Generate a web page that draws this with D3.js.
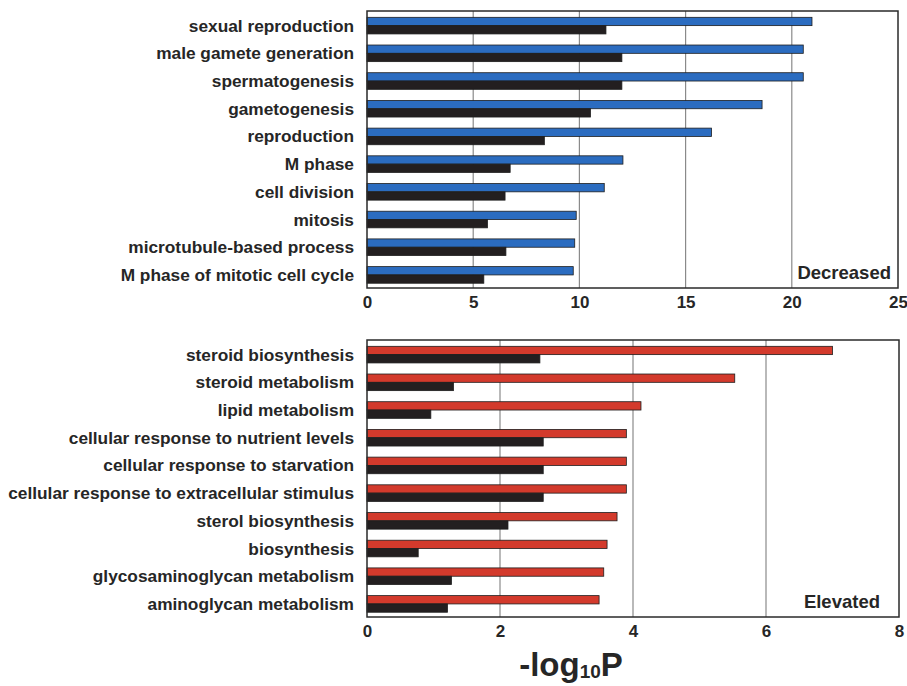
<!DOCTYPE html>
<html>
<head>
<meta charset="utf-8">
<title>GO terms -log10P</title>
<style>
  body { margin: 0; background: #fff; }
  svg text { font-family: "Liberation Sans", Arial, sans-serif; font-weight: bold; fill: #262626; }
</style>
</head>
<body>
<script src="https://cdn.jsdelivr.net/npm/d3@7"></script>
<script>
// decreased panel
var decTerms = ["sexual reproduction", "male gamete generation", "spermatogenesis", "gametogenesis",
    "reproduction", "M phase", "cell division", "mitosis", "microtubule-based process",
    "M phase of mitotic cell cycle"];
var decValues = [20.95, 20.54, 20.54, 18.6, 16.22, 12.05, 11.17, 9.85, 9.78, 9.71];
var decBlack  = [11.25, 12.0, 12.0, 10.52, 8.35, 6.74, 6.5, 5.67, 6.54, 5.5];
var decTicks  = [0, 5, 10, 15, 20, 25];

// elevated panel
var eleTerms = ["steroid biosynthesis", "steroid metabolism", "lipid metabolism",
    "cellular response to nutrient levels", "cellular response to starvation",
    "cellular response to extracellular stimulus", "sterol biosynthesis", "biosynthesis",
    "glycosaminoglycan metabolism", "aminoglycan metabolism"];
var eleValues = [7.0, 5.53, 4.12, 3.9, 3.9, 3.9, 3.76, 3.61, 3.56, 3.49];
var eleBlack  = [2.6, 1.3, 0.96, 2.65, 2.65, 2.65, 2.12, 0.77, 1.27, 1.21];
var eleTicks  = [0, 2, 4, 6, 8];

var W = 907, H = 686;
var svg = d3.select("body").append("svg").attr("width", W).attr("height", H);

function panel(opt) {
    var x = d3.scaleLinear().domain([0, opt.max]).range([opt.x0, opt.x1]);
    var y = d3.scaleBand().domain(opt.terms).range([opt.y0, opt.y1])
        .paddingInner(0.4).paddingOuter(0.2).align(0.57);
    var sub = d3.scaleBand().domain(["a", "b"]).range([0, y.bandwidth()]);

    var g = svg.append("g");

    // grid lines
    g.selectAll(".grid")
        .data(opt.ticks.slice(1, -1))
        .enter()
        .append("line")
        .attr("x1", function(d) { return x(d); })
        .attr("x2", function(d) { return x(d); })
        .attr("y1", opt.y0)
        .attr("y2", opt.y1)
        .attr("stroke", "#8a8a8a")
        .attr("stroke-width", 1.2);

    var rows = opt.terms.map(function(t, i) {
        return { term: t, v: opt.values[i], b: opt.black[i] };
    });

    // coloured bars
    g.selectAll(".barA")
        .data(rows)
        .enter()
        .append("rect")
        .attr("x", x(0))
        .attr("y", function(d) { return y(d.term) + sub("a"); })
        .attr("width", function(d) { return x(d.v) - x(0); })
        .attr("height", sub.bandwidth())
        .attr("fill", opt.color)
        .attr("stroke", "#1e1e1e")
        .attr("stroke-width", 0.8);

    // black bars
    g.selectAll(".barB")
        .data(rows)
        .enter()
        .append("rect")
        .attr("x", x(0))
        .attr("y", function(d) { return y(d.term) + sub("b"); })
        .attr("width", function(d) { return x(d.b) - x(0); })
        .attr("height", sub.bandwidth())
        .attr("fill", "#231f20")
        .attr("stroke", "#1e1e1e")
        .attr("stroke-width", 0.8);

    // frame
    g.append("rect")
        .attr("x", opt.x0)
        .attr("y", opt.y0)
        .attr("width", opt.x1 - opt.x0)
        .attr("height", opt.y1 - opt.y0)
        .attr("fill", "none")
        .attr("stroke", "#2a2a2a")
        .attr("stroke-width", 1.5);

    // category labels
    g.selectAll(".lab")
        .data(rows)
        .enter()
        .append("text")
        .attr("x", opt.x0 - 13)
        .attr("y", function(d) { return y(d.term) + y.bandwidth() / 2; })
        .attr("dy", "0.35em")
        .attr("text-anchor", "end")
        .attr("font-size", 17.3)
        .text(function(d) { return d.term; });

    // x axis tick labels
    var ax = g.append("g")
        .attr("transform", "translate(0," + opt.y1 + ")")
        .call(d3.axisBottom(x).tickValues(opt.ticks).tickSize(0).tickPadding(8));
    ax.select(".domain").remove();
    ax.selectAll("text")
        .attr("font-size", 17)
        .style("font-family", "'Liberation Sans', Arial, sans-serif")
        .style("font-weight", "bold")
        .attr("fill", "#262626");

    g.append("text")
        .attr("x", opt.x1 - opt.nameRight)
        .attr("y", opt.y1 - 9)
        .attr("text-anchor", "end")
        .attr("font-size", 18.5)
        .text(opt.name);
}

panel({ terms: decTerms, values: decValues, black: decBlack, ticks: decTicks, max: 25,
        x0: 367, x1: 898, y0: 11, y1: 288, color: "#2b6cc0", name: "Decreased", nameRight: 7 });

panel({ terms: eleTerms, values: eleValues, black: eleBlack, ticks: eleTicks, max: 8,
        x0: 367, x1: 899, y0: 340, y1: 617, color: "#d33a2c", name: "Elevated", nameRight: 19 });

// axis title
var title = svg.append("text")
    .attr("x", 571)
    .attr("y", 676)
    .attr("text-anchor", "middle")
    .attr("font-size", 33);
title.append("tspan").text("-log");
title.append("tspan").attr("font-size", 19).attr("dy", 2).text("10");
title.append("tspan").attr("dy", -2).text("P");
</script>
</body>
</html>
